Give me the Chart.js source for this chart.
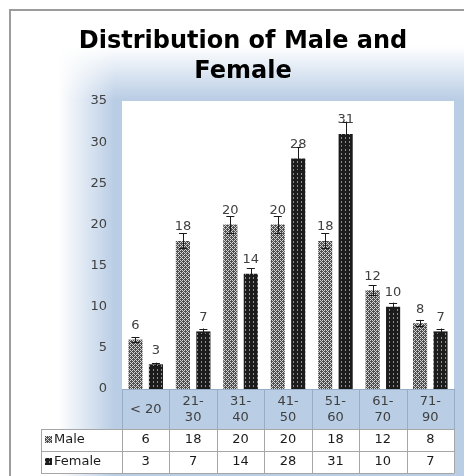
<!DOCTYPE html>
<html>
<head>
<meta charset="utf-8">
<script src="https://cdn.jsdelivr.net/npm/chart.js@4/dist/chart.umd.min.js"></script>
<style>
  html, body { margin: 0; padding: 0; background: #fff; }
  canvas { display: block; }
</style>
</head>
<body>
<canvas id="chart" width="464" height="476"></canvas>
<script>
// Age groups and counts per sex
const categories = ["< 20", "21-30", "31-40", "41-50", "51-60", "61-70", "71-90"];
const maleCounts = [6, 18, 20, 20, 18, 12, 8];
const femaleCounts = [3, 7, 14, 28, 31, 10, 7];
// Error bar half-lengths
const maleErrors = [0.3, 0.9, 1.0, 1.0, 0.9, 0.6, 0.4];
const femaleErrors = [0.2, 0.35, 0.7, 1.4, 1.5, 0.5, 0.35];
const seriesNames = ["Male", "Female"];
const yMin = 0, yMax = 35, yStep = 5;

const canvas = document.getElementById('chart');
const ctx = canvas.getContext('2d');

// Small bitmap patterns for the bar fills
function makePattern(bg, fg, rows) {
  const c = document.createElement('canvas');
  c.width = rows[0].length; c.height = rows.length;
  const p = c.getContext('2d');
  p.fillStyle = bg; p.fillRect(0, 0, c.width, c.height);
  p.fillStyle = fg;
  rows.forEach((r, y) => { for (let x = 0; x < r.length; x++) if (r[x] === '#') p.fillRect(x, y, 1, 1); });
  return ctx.createPattern(c, 'repeat');
}
const malePattern = makePattern('#4e4e4e', '#d4d4d4', ["#.#.", ".#..", "#.#.", "...#"]);
const femalePattern = makePattern('#1c1c1c', '#8f8f8f', ["....", ".#..", ".#..", "...."]);
const fills = [malePattern, femalePattern];
const errors = [maleErrors, femaleErrors];

const FONT = "'DejaVu Sans', 'Open Sans', sans-serif";

const backgroundPlugin = {
  id: 'background',
  beforeDraw(chart) {
    const c = chart.ctx, W = chart.width, H = chart.height, a = chart.chartArea;
    c.save();
    c.fillStyle = '#ffffff'; c.fillRect(0, 0, W, H);
    c.fillStyle = '#b9cde5'; c.fillRect(10, 10, W - 10, H - 10);
    let g = c.createLinearGradient(10, 0, 115, 0);
    g.addColorStop(0, 'rgba(255,255,255,1)');
    g.addColorStop(0.46, 'rgba(255,255,255,1)');
    g.addColorStop(1, 'rgba(255,255,255,0)');
    c.fillStyle = g; c.fillRect(10, 10, W - 10, H - 10);
    g = c.createLinearGradient(0, 10, 0, 100);
    g.addColorStop(0, 'rgba(255,255,255,1)');
    g.addColorStop(0.4, 'rgba(255,255,255,1)');
    g.addColorStop(1, 'rgba(255,255,255,0)');
    c.fillStyle = g; c.fillRect(10, 10, W - 10, H - 10);
    c.fillStyle = '#ffffff';
    c.fillRect(a.left, a.top, a.right - a.left, a.bottom - a.top);
    c.strokeStyle = '#9c9c9c'; c.lineWidth = 2;
    c.beginPath(); c.moveTo(10, H); c.lineTo(10, 10); c.lineTo(W, 10); c.stroke();
    c.restore();
  }
};

const errorLabelPlugin = {
  id: 'errorLabels',
  afterDatasetsDraw(chart) {
    const c = chart.ctx, y = chart.scales.y;
    c.save();
    chart.data.datasets.forEach((ds, di) => {
      chart.getDatasetMeta(di).data.forEach((bar, i) => {
        const v = ds.data[i], e = errors[di][i];
        const yt = y.getPixelForValue(v + e), yb = y.getPixelForValue(v - e);
        c.strokeStyle = '#1a1a1a'; c.lineWidth = 1;
        c.beginPath();
        c.moveTo(Math.round(bar.x) + 0.5, yt); c.lineTo(Math.round(bar.x) + 0.5, yb);
        c.moveTo(bar.x - 4, Math.round(yt) + 0.5); c.lineTo(bar.x + 4, Math.round(yt) + 0.5);
        c.moveTo(bar.x - 4, Math.round(yb) + 0.5); c.lineTo(bar.x + 4, Math.round(yb) + 0.5);
        c.stroke();
        c.fillStyle = '#404040'; c.font = '13px ' + FONT;
        c.textAlign = 'center'; c.textBaseline = 'middle';
        c.fillText(String(v), bar.x, bar.y - 14);
      });
    });
    c.restore();
  }
};

const tablePlugin = {
  id: 'dataTable',
  afterDraw(chart) {
    const c = chart.ctx, x = chart.scales.x, a = chart.chartArea;
    const n = categories.length, colW = (a.right - a.left) / n;
    const top = a.bottom, headBottom = x.bottom, rowH = 22;
    const rowsTop = headBottom, tableBottom = rowsTop + rowH * 2;
    const headLeft = 41;
    c.save();
    c.fillStyle = '#ffffff';
    c.fillRect(headLeft, rowsTop, a.right - headLeft, tableBottom - rowsTop);
    c.lineWidth = 1;
    // header row lines
    c.strokeStyle = '#97acc6';
    c.beginPath();
    c.moveTo(a.left, top + 0.5); c.lineTo(a.right, top + 0.5);
    for (let i = 0; i <= n; i++) {
      const px = Math.round(a.left + i * colW) + 0.5;
      c.moveTo(px, top); c.lineTo(px, headBottom);
    }
    c.stroke();
    // body lines
    c.strokeStyle = '#a6a6a6';
    c.beginPath();
    [rowsTop, rowsTop + rowH, tableBottom].forEach(yy => { c.moveTo(headLeft, Math.round(yy) + 0.5); c.lineTo(a.right, Math.round(yy) + 0.5); });
    c.moveTo(headLeft + 0.5, rowsTop); c.lineTo(headLeft + 0.5, tableBottom);
    for (let i = 0; i <= n; i++) {
      const px = Math.round(a.left + i * colW) + 0.5;
      c.moveTo(px, rowsTop); c.lineTo(px, tableBottom);
    }
    c.stroke();
    // row headers with swatches, then the values
    const rowsData = [maleCounts, femaleCounts];
    c.font = '13px ' + FONT; c.textBaseline = 'middle';
    rowsData.forEach((vals, r) => {
      const cy = rowsTop + rowH * r + rowH / 2;
      c.fillStyle = fills[r];
      c.fillRect(45, Math.round(cy) - 4, 7, 7);
      c.fillStyle = '#1a1a1a'; c.textAlign = 'left';
      c.fillText(seriesNames[r], 54, cy);
      c.textAlign = 'center';
      vals.forEach((v, i) => c.fillText(String(v), x.getPixelForValue(i), cy));
    });
    c.restore();
  }
};

new Chart(ctx, {
  type: 'bar',
  data: {
    labels: categories,
    datasets: [
      { label: seriesNames[0], data: maleCounts, backgroundColor: malePattern, borderWidth: 0,
        categoryPercentage: 0.863, barPercentage: 0.69 },
      { label: seriesNames[1], data: femaleCounts, backgroundColor: femalePattern, borderWidth: 0,
        categoryPercentage: 0.863, barPercentage: 0.69 }
    ]
  },
  options: {
    responsive: false,
    animation: false,
    layout: { padding: { left: 32, right: 10, top: 0, bottom: 47 } },
    plugins: {
      legend: { display: false },
      tooltip: { enabled: false },
      title: {
        display: true,
        text: ['Distribution of Male and', 'Female'],
        color: '#000000',
        font: { family: FONT, size: 24, weight: 'bold', lineHeight: 1.25 },
        padding: { top: 27, bottom: 14 }
      }
    },
    scales: {
      x: {
        grid: { display: false, drawTicks: false },
        border: { display: false },
        afterFit(s) { s.height = 40; },
        ticks: {
          color: '#404040',
          font: { family: FONT, size: 13, lineHeight: 1.23 },
          padding: 13,
          maxRotation: 0,
          autoSkip: false,
          crossAlign: 'center',
          callback(v, i) {
            const t = categories[i];
            const k = t.indexOf('-');
            return k < 0 ? t : [t.slice(0, k + 1), t.slice(k + 1)];
          }
        }
      },
      y: {
        min: yMin, max: yMax,
        grid: { display: false, drawTicks: false },
        border: { display: false },
        afterFit(s) { s.width = 90; },
        ticks: {
          stepSize: yStep,
          color: '#404040',
          font: { family: FONT, size: 13 },
          padding: 15
        }
      }
    }
  },
  plugins: [backgroundPlugin, errorLabelPlugin, tablePlugin]
});
</script>
</body>
</html>
